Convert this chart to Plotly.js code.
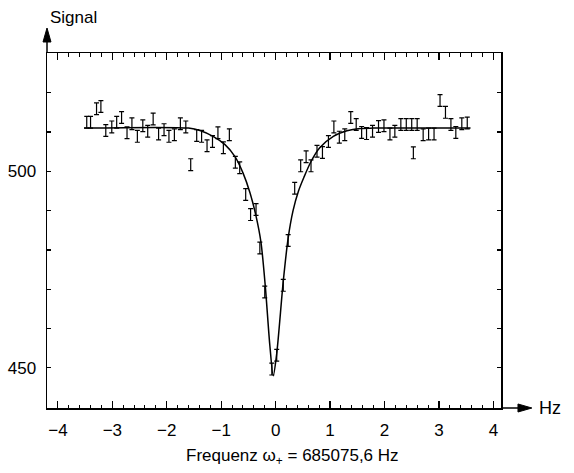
<!DOCTYPE html>
<html>
<head>
<meta charset="utf-8">
<script src="https://cdn.plot.ly/plotly-3.0.1.min.js"></script>
<style>html,body{margin:0;padding:0;background:#fff;}#chart{width:574px;height:473px;}</style>
</head>
<body>
<div id="chart"></div>
<script>
// Measured points (frequency offset in Hz, signal)
var xData = [-3.47,-3.40,-3.29,-3.21,-3.12,-3.01,-2.92,-2.83,-2.73,-2.64,-2.54,-2.44,-2.35,-2.25,-2.15,-2.05,-1.96,-1.86,-1.75,-1.65,-1.56,-1.45,-1.36,-1.26,-1.16,-1.06,-0.96,-0.85,-0.74,-0.66,-0.55,-0.46,-0.36,-0.29,-0.20,-0.07,0.02,0.14,0.23,0.35,0.46,0.56,0.65,0.76,0.86,0.97,1.07,1.17,1.27,1.38,1.48,1.58,1.67,1.78,1.89,1.99,2.10,2.19,2.30,2.40,2.50,2.53,2.60,2.71,2.81,2.91,3.02,3.12,3.22,3.31,3.42,3.52];
var yData = [512.5,512.5,515.9,516.5,510.4,511.3,512.5,513.7,509.8,512.1,508.9,511.6,510.2,513.3,509.5,510.6,508.9,509.3,512.1,511.3,501.7,509.1,508.9,506.5,507.6,509.8,506.0,509.3,502.3,500.9,494.1,489.0,490.3,480.5,469.3,449.7,453.2,471.0,482.4,495.7,501.4,503.7,501.4,505.1,504.8,507.6,511.3,508.7,509.3,513.7,511.9,509.9,509.6,510.2,511.4,511.6,509.5,510.2,511.9,511.9,511.9,504.7,511.9,509.3,509.5,509.5,518.0,515.0,511.9,509.9,512.1,512.3];
var errHalf = 1.5;

// Fitted curve
var curveX = [-3.52,-1.60,-1.39,-1.15,-0.93,-0.75,-0.60,-0.47,-0.36,-0.27,-0.19,-0.105,-0.044,0.018,0.14,0.23,0.32,0.42,0.52,0.65,0.81,1.06,1.31,1.55,1.80,3.58];
var curveY = [511.0,511.0,510.4,508.9,506.8,503.8,499.6,494.5,488.6,482.0,470.8,455.5,448.0,453.4,472.0,483.0,490.0,495.0,498.5,502.5,506.0,508.9,510.3,510.9,511.0,511.0];

// Axis ticks
var xTickVals = [-4,-3,-2,-1,0,1,2,3,4];
var xTickText = ["\u22124","\u22123","\u22122","\u22121","0","1","2","3","4"];
var yTickVals = [440,450,460,470,480,490,500,510,520,530];
var yTickText = [" ","450"," "," "," "," ","500"," "," "," "];

var FONT = "Liberation Sans, Arial, Helvetica, sans-serif";

var traces = [
  {
    x: curveX, y: curveY, type: "scatter", mode: "lines",
    line: {color: "#000", width: 1.5, shape: "spline", smoothing: 0.8},
    hoverinfo: "skip", showlegend: false
  },
  {
    x: xData, y: yData, type: "scatter", mode: "markers",
    marker: {size: 2, color: "#000", opacity: 0},
    error_y: {type: "constant", value: errHalf, color: "#000", thickness: 1.2, width: 2.5},
    showlegend: false
  }
];

var layout = {
  width: 574, height: 473,
  margin: {l: 47, r: 73, t: 53, b: 65},
  paper_bgcolor: "#fff", plot_bgcolor: "#fff",
  font: {family: FONT, size: 17, color: "#000"},
  showlegend: false,
  xaxis: {
    range: [-4.2, 4.14],
    tickmode: "array", tickvals: xTickVals, ticktext: xTickText,
    ticks: "inside", ticklen: 7, tickwidth: 1.2, tickcolor: "#000",
    minor: {tickmode: "linear", tick0: 0, dtick: 0.2, ticks: "inside", ticklen: 3.5, tickwidth: 1, tickcolor: "#000"},
    showline: true, linecolor: "#000", linewidth: 1.5, mirror: "ticks",
    showgrid: false, zeroline: false,
    tickfont: {family: FONT, size: 17, color: "#000"},
    ticklabelstandoff: 6
  },
  yaxis: {
    range: [439.8, 530.1],
    tickmode: "array", tickvals: yTickVals, ticktext: yTickText,
    ticks: "inside", ticklen: 4, tickwidth: 1.2, tickcolor: "#000",
    showline: true, linecolor: "#000", linewidth: 1.5, mirror: "ticks",
    showgrid: false, zeroline: false,
    tickfont: {family: FONT, size: 17, color: "#000"},
    ticklabelstandoff: 6
  },
  shapes: [
    {type: "line", xref: "paper", yref: "paper", x0: 0, y0: 1, x1: 0, y1: 1.04, line: {color: "#000", width: 1.5}},
    {type: "path", xref: "paper", yref: "paper", path: "M 0,1.0704 L -0.0088,1.031 L 0.0088,1.031 Z", fillcolor: "#000", line: {color: "#000", width: 1}},
    {type: "line", xref: "paper", yref: "paper", x0: 1, y0: 0, x1: 1.04, y1: 0, line: {color: "#000", width: 1.5}},
    {type: "path", xref: "paper", yref: "paper", path: "M 1.068,0 L 1.0374,0.0113 L 1.0374,-0.0113 Z", fillcolor: "#000", line: {color: "#000", width: 1}}
  ],
  annotations: [
    {text: "Signal", xref: "paper", yref: "paper", x: 0.002, y: 1.099, xanchor: "left", yanchor: "middle", showarrow: false, font: {family: FONT, size: 17, color: "#000"}},
    {text: "Hz", xref: "paper", yref: "paper", x: 1.08, y: 0.0, xanchor: "left", yanchor: "middle", showarrow: false, font: {family: FONT, size: 18, color: "#000"}},
    {text: "Frequenz \u03c9<sub>+</sub> = 685075,6 Hz", xref: "paper", yref: "paper", x: 0.54, y: -0.138, xanchor: "center", yanchor: "middle", showarrow: false, font: {family: FONT, size: 17, color: "#000"}}
  ]
};

Plotly.newPlot("chart", traces, layout, {staticPlot: true, displayModeBar: false});
</script>
</body>
</html>
